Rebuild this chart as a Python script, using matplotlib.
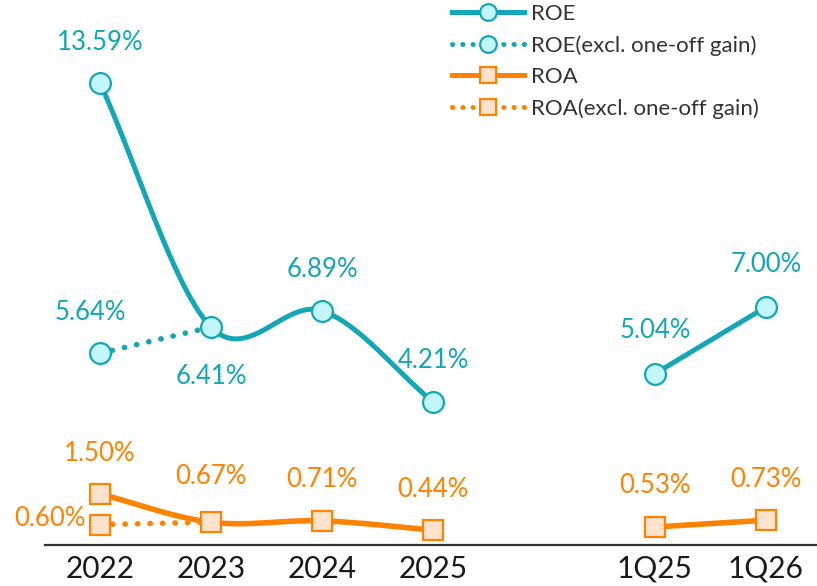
import matplotlib
matplotlib.use("Agg")
import matplotlib.pyplot as plt
import numpy as np
from matplotlib.lines import Line2D

plt.rcParams["font.family"] = ["Lato", "DejaVu Sans"]

# categories (gap slot between 2025 and 1Q25)
CATS = ["2022", "2023", "2024", "2025", "1Q25", "1Q26"]
POS = [0, 1, 2, 3, 5, 6]

ROE_YEAR = [13.59, 6.41, 6.89, 4.21]
ROE_QTR = [5.04, 7.00]
ROE_EXCL = [5.64, 6.41]  # 2022 -> 2023
ROA_YEAR = [1.50, 0.67, 0.71, 0.44]
ROA_QTR = [0.53, 0.73]
ROA_EXCL = [0.60, 0.67]  # 2022 -> 2023

TEAL = "#13A6B6"
TEAL_FACE = "#C2F6FB"
ORANGE = "#FF8200"
ORANGE_FACE = "#FFE3CC"


def smooth(x, y, n=40):
    # uniform catmull-rom, close to the "smoothed line" option of office charts
    x = np.asarray(x, float)
    y = np.asarray(y, float)
    px = np.concatenate([[2 * x[0] - x[1]], x, [2 * x[-1] - x[-2]]])
    py = np.concatenate([[2 * y[0] - y[1]], y, [2 * y[-1] - y[-2]]])
    xs, ys = [], []
    t = np.linspace(0, 1, n)
    for i in range(1, len(px) - 2):
        for p, out in ((px, xs), (py, ys)):
            p0, p1, p2, p3 = p[i - 1], p[i], p[i + 1], p[i + 2]
            out.extend(0.5 * ((2 * p1) + (-p0 + p2) * t
                              + (2 * p0 - 5 * p1 + 4 * p2 - p3) * t ** 2
                              + (-p0 + 3 * p1 - 3 * p2 + p3) * t ** 3))
    return np.array(xs), np.array(ys)


fig = plt.figure(figsize=(8.17, 5.86), dpi=100)
ax = fig.add_axes([44.5 / 817, 41 / 586, 1 - 44.5 / 817, 545 / 586])
ax.set_xlim(-0.5, 6.46)
ax.set_ylim(0, 16.03)

yr_pos = POS[:4]
q_pos = POS[4:]

roe_m = dict(marker="o", markerfacecolor=TEAL_FACE, markeredgecolor=TEAL, markeredgewidth=1.6)
roa_m = dict(marker="s", markerfacecolor=ORANGE_FACE, markeredgecolor=ORANGE, markeredgewidth=1.6)
dot = dict(linestyle=(0, (0.05, 2.2)), dash_capstyle="round", linewidth=4)

# ROE
sx, sy = smooth(yr_pos, ROE_YEAR)
ax.plot(sx, sy, color=TEAL, linewidth=3.6, solid_capstyle="round", zorder=2)
ax.plot(yr_pos[:2], ROE_EXCL, color=TEAL, zorder=2, **dot)
ax.plot(q_pos, ROE_QTR, color=TEAL, linewidth=3.6, zorder=2)
ax.plot(yr_pos, ROE_YEAR, linestyle="none", markersize=15, zorder=3, **roe_m)
ax.plot([yr_pos[0]], ROE_EXCL[:1], linestyle="none", markersize=15, zorder=3, **roe_m)
ax.plot(q_pos, ROE_QTR, linestyle="none", markersize=15, zorder=3, **roe_m)

# ROA
sx, sy = smooth(yr_pos, ROA_YEAR)
ax.plot(sx, sy, color=ORANGE, linewidth=4, solid_capstyle="round", zorder=2)
ax.plot(yr_pos[:2], ROA_EXCL, color=ORANGE, zorder=2, **dot)
ax.plot(q_pos, ROA_QTR, color=ORANGE, linewidth=4, zorder=2)
ax.plot(yr_pos, ROA_YEAR, linestyle="none", markersize=15, zorder=3, **roa_m)
ax.plot([yr_pos[0]], ROA_EXCL[:1], linestyle="none", markersize=15, zorder=3, **roa_m)
ax.plot(q_pos, ROA_QTR, linestyle="none", markersize=15, zorder=3, **roa_m)


def label(x, y, color, dx=0, dy=41):
    ax.annotate(f"{y:.2f}%", (x, y), xytext=(dx, dy), textcoords="offset pixels",
                ha="center", va="center", color=color, fontsize=18.5)


roe_dy = [40, -49, 41, 41]
for x, v, d in zip(yr_pos, ROE_YEAR, roe_dy):
    label(x, v, TEAL, dy=d)
label(yr_pos[0], ROE_EXCL[0], TEAL, dx=-10, dy=41)
for x, v in zip(q_pos, ROE_QTR):
    label(x, v, TEAL, dy=43)

roa_dy = [41, 46, 41, 41]
for x, v, d in zip(yr_pos, ROA_YEAR, roa_dy):
    label(x, v, ORANGE, dy=d)
label(yr_pos[0], ROA_EXCL[0], ORANGE, dx=-50, dy=6)
for x, v in zip(q_pos, ROA_QTR):
    label(x, v, ORANGE, dy=41)

ax.set_xticks(POS)
ax.set_xticklabels(CATS, fontsize=21.5, color="#1a1a1a")
ax.tick_params(axis="x", length=0, pad=7)
ax.set_yticks([])
for s in ("top", "right", "left"):
    ax.spines[s].set_visible(False)
ax.spines["bottom"].set_color("#333333")
ax.spines["bottom"].set_linewidth(1.6)

leg_dot = dict(linestyle=(0, (0.05, 2.0)), dash_capstyle="round")
handles = [
    Line2D([], [], color=TEAL, linewidth=3.6, markersize=12, **roe_m),
    Line2D([], [], color=TEAL, linewidth=3.6, markersize=12, **leg_dot, **roe_m),
    Line2D([], [], color=ORANGE, linewidth=3.6, markersize=12, **roa_m),
    Line2D([], [], color=ORANGE, linewidth=3.6, markersize=12, **leg_dot, **roa_m),
]
names = ["ROE", "ROE(excl. one-off gain)", "ROA", "ROA(excl. one-off gain)"]
leg = fig.legend(handles, names, loc="upper left", bbox_to_anchor=(452 / 817, 1 - 4 / 586),
                 frameon=False, fontsize=16, handlelength=3.25, handletextpad=0.3,
                 labelspacing=0.5, borderaxespad=0, borderpad=0.0)
for t in leg.get_texts():
    t.set_color("#333333")

fig.savefig("out.png", dpi=100)
